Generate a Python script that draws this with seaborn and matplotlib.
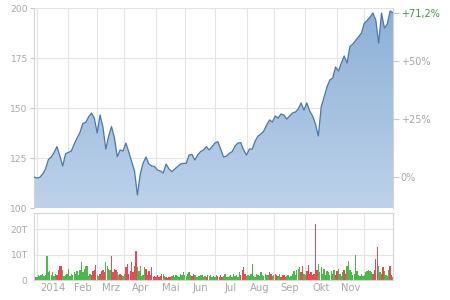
import numpy as np
import pandas as pd
import seaborn as sns
import matplotlib.pyplot as plt
from matplotlib.colors import LinearSegmentedColormap

# ---- data ----
price = [
    115.5, 115.0, 115.3, 117.0, 119.5, 124.2, 125.5, 127.8, 130.7, 126.0,
    121.0, 127.2, 127.8, 128.5, 132.0, 135.0, 137.8, 142.3, 142.8, 145.5,
    147.5, 145.0, 137.5, 146.5, 140.5, 129.5, 136.0, 140.7, 135.0, 125.7,
    129.0, 128.5, 132.5, 128.0, 123.2, 118.5, 106.5, 117.0, 122.5, 125.5,
    122.0, 121.0, 120.7, 119.0, 118.5, 117.5, 122.0, 119.5, 118.2, 119.5,
    120.7, 122.0, 122.3, 122.3, 126.5, 126.8, 124.0, 126.5, 128.2, 129.0,
    130.7, 129.0, 130.7, 132.5, 133.2, 129.5, 125.5, 126.0, 127.3, 128.2,
    131.0, 132.5, 132.7, 129.0, 126.5, 129.5, 129.5, 133.5, 136.0, 137.0,
    138.5, 141.5, 144.0, 143.0, 146.0, 145.0, 147.0, 146.5, 144.5, 146.0,
    147.5, 148.0, 149.5, 152.5, 149.0, 152.5, 148.5, 146.0, 142.0, 136.0,
    150.5, 155.5, 160.5, 164.0, 165.0, 170.5, 168.5, 172.5, 176.0, 172.5,
    180.7, 182.0, 183.8, 185.5, 187.5, 192.3, 193.8, 195.5, 197.5, 194.0,
    182.5, 197.5, 190.0, 192.0, 198.5, 197.7,
]

volume = [
    0.8, 1.2, 1.0, 2.0, 1.5, 1.8, 2.2, 1.5, 2.0, 9.6,
    3.0, 3.5, 2.0, 3.2, 1.5, 2.5, 2.0, 4.0, 5.5, 5.5,
    4.0, 1.5, 2.0, 2.5, 4.5, 1.5, 2.5, 2.0, 3.0, 2.5,
    3.5, 2.0, 4.0, 7.0, 3.0, 4.5, 5.5, 5.5, 1.5, 2.5,
    2.0, 3.5, 4.0, 6.0, 2.0, 1.5, 2.5, 3.5, 4.0, 3.0,
    7.0, 5.5, 4.5, 4.0, 9.5, 3.0, 4.5, 4.0, 3.0, 2.0,
    2.5, 2.0, 1.5, 2.5, 5.0, 6.5, 2.5, 3.5, 7.0, 3.0,
    5.5, 11.5, 5.0, 3.5, 5.5, 1.5, 2.0, 5.0, 4.5, 2.0,
    3.5, 2.0, 5.0, 1.0, 1.5, 1.2, 2.0, 1.0, 1.5, 2.5,
    2.2, 1.5, 1.0, 0.8, 1.2, 1.0, 1.5, 1.8, 1.2, 2.0,
    1.5, 1.0, 2.5, 1.8, 3.0, 2.0, 1.5, 2.5, 3.0, 2.0,
    1.5, 2.5, 2.0, 1.2, 1.0, 1.5, 1.8, 2.0, 1.2, 1.5,
    1.0, 1.8, 1.5, 2.0, 1.2, 1.5, 1.0, 2.0, 1.5, 1.2,
    1.8, 1.0, 1.5, 2.2, 1.2, 1.0, 1.5, 1.8, 1.2, 2.5,
    1.5, 2.0, 1.2, 3.0, 2.0, 4.0, 5.0, 2.5, 1.5, 2.0,
    1.5, 2.5, 6.5, 1.5, 1.0, 2.5, 2.0, 1.5, 3.0, 2.0,
    1.5, 2.5, 2.0, 1.8, 3.0, 2.5, 1.5, 2.0, 2.5, 1.8,
    1.5, 2.5, 1.2, 1.8, 2.0, 1.0, 1.5, 2.0, 1.0, 1.5,
    2.5, 3.5, 2.0, 4.0, 4.5, 5.0, 3.0, 5.5, 2.5, 2.0,
    3.5, 6.0, 2.5, 3.0, 2.0, 2.5, 22.0, 4.0, 6.5, 3.0,
    5.0, 2.5, 4.5, 2.0, 3.5, 3.0, 2.0, 3.5, 2.5, 4.0,
    2.0, 3.5, 4.5, 2.5, 1.5, 3.0, 4.0, 2.5, 5.5, 7.5,
    4.0, 3.0, 2.0, 2.5, 10.0, 3.5, 2.0, 1.5, 2.5, 1.5,
    2.0, 3.0, 3.5, 4.0, 3.5, 3.0, 2.5, 4.0, 8.5, 13.0,
    5.5, 3.0, 2.5, 5.0, 3.5, 2.0, 1.5, 4.0, 5.5, 2.0, 1.0,
]

month_starts = [2, 24, 44, 63, 85, 105, 126, 148, 167, 189, 211, 230]
month_labels = ['2014', 'Feb', 'Mrz', 'Apr', 'Mai', 'Jun', 'Jul', 'Aug', 'Sep', 'Okt', 'Nov']
price_ticks = [100, 125, 150, 175, 200]
pct_ticks = [0, 25, 50]
vol_ticks = [0, 10, 20]
vol_tick_labels = ['0', '10T', '20T']

# ---- styling ----
sns.set_style('white')
plt.rcParams['font.family'] = ['DejaVu Sans']
TXT = '#a8a8a8'
GRID = '#e4e4e4'
SPINE = '#d4d4d4'
FS = 6.6

fig = plt.figure(figsize=(4.5, 3), dpi=100)
W, H = 450, 300
ax = fig.add_axes([34 / W, 1 - 208 / H, 359 / W, 200 / H])
axv = fig.add_axes([34 / W, 1 - 280 / H, 359 / W, 67 / H])

n_days = len(volume)
days = np.arange(len(price)) * 2
df = pd.DataFrame({'day': days, 'price': price})

# gradient area under the price line
poly = ax.fill_between(days, price, 100, color='none', lw=0)
cmap = LinearSegmentedColormap.from_list('g', ['#bdd2ea', '#8db0d6'])
grad = np.linspace(0, 1, 256).reshape(-1, 1)
im = ax.imshow(grad, extent=[0, n_days - 1, 100, 200], aspect='auto',
               origin='lower', cmap=cmap, zorder=1)
im.set_clip_path(poly.get_paths()[0], transform=ax.transData)
sns.lineplot(data=df, x='day', y='price', ax=ax, color='#4a78ab', linewidth=0.9, zorder=3)

ax.set_xlim(0, n_days - 1)
ax.set_ylim(100, 200)
ax.set_xlabel('')
ax.set_ylabel('')
ax.set_yticks(price_ticks)
ax.set_xticks(month_starts, minor=True)
ax.set_xticks([])
ax.grid(which='minor', axis='x', color=GRID, lw=0.8, zorder=0)
ax.grid(which='major', axis='y', color=GRID, lw=0.8, zorder=0)
ax.set_axisbelow(True)
ax.tick_params(axis='y', labelsize=FS, colors=TXT, length=3, width=0.8, pad=1.5, color='#c8c8c8')
ax.tick_params(axis='x', which='minor', length=0)
for s in ax.spines.values():
    s.set_color(SPINE)
    s.set_linewidth(0.8)
ax.spines['top'].set_visible(False)
ax.spines['bottom'].set_visible(False)

# right-hand percent axis
axr = ax.twinx()
axr.set_ylim(100, 200)
base = price[0]
last = price[-1]
chg = (last / base - 1) * 100
rticks = [base * (1 + p / 100) for p in pct_ticks] + [last]
rlabels = [('+' if p > 0 else '') + f'{p}%' for p in pct_ticks] + \
          ['+' + f'{chg:.1f}'.replace('.', ',') + '%']
axr.set_yticks(rticks)
axr.set_yticklabels(rlabels)
axr.tick_params(axis='y', labelsize=FS + 0.4, colors=TXT, length=4, width=0.8, pad=1.5, color='#c8c8c8')
axr.get_yticklabels()[-1].set_color('#3a9a3a')
for s in axr.spines.values():
    s.set_visible(False)

# volume panel
k = np.arange(n_days) // 2
nxt = np.minimum(k + 1, len(price) - 1)
direction = np.where(np.array(price)[nxt] >= np.array(price)[k], 'up', 'down')
vdf = pd.DataFrame({'day': np.arange(n_days), 'vol': volume, 'dir': direction})
sns.barplot(data=vdf, x='day', y='vol', hue='dir', native_scale=True, dodge=False,
            palette={'up': '#4cb84c', 'down': '#e84a55'}, saturation=1, width=0.95,
            errorbar=None, legend=False, ax=axv, zorder=2)
for patch in axv.patches:
    patch.set_edgecolor('none')
    patch.set_linewidth(0)
    patch.set_antialiased(False)
axv.set_xlim(0, n_days - 1)
axv.set_ylim(0, 26.5)
axv.set_xlabel('')
axv.set_ylabel('')
axv.set_yticks(vol_ticks)
axv.set_yticklabels(vol_tick_labels)
mids = [(month_starts[i] + month_starts[i + 1]) / 2 for i in range(len(month_labels))]
axv.set_xticks(mids)
axv.set_xticklabels(month_labels)
axv.set_xticks(month_starts, minor=True)
axv.grid(which='minor', axis='x', color=GRID, lw=0.8, zorder=0)
axv.grid(which='major', axis='y', color=GRID, lw=0.8, zorder=0)
axv.grid(which='major', axis='x', visible=False)
axv.set_axisbelow(True)
axv.tick_params(axis='y', labelsize=FS, colors=TXT, length=3, width=0.8, pad=1.5, color='#c8c8c8')
axv.tick_params(axis='x', which='major', labelsize=FS + 0.6, colors=TXT, length=0, pad=2)
axv.tick_params(axis='x', which='minor', length=0)
for s in axv.spines.values():
    s.set_color(SPINE)
    s.set_linewidth(0.8)

fig.savefig('out.png', dpi=100, facecolor='white')
